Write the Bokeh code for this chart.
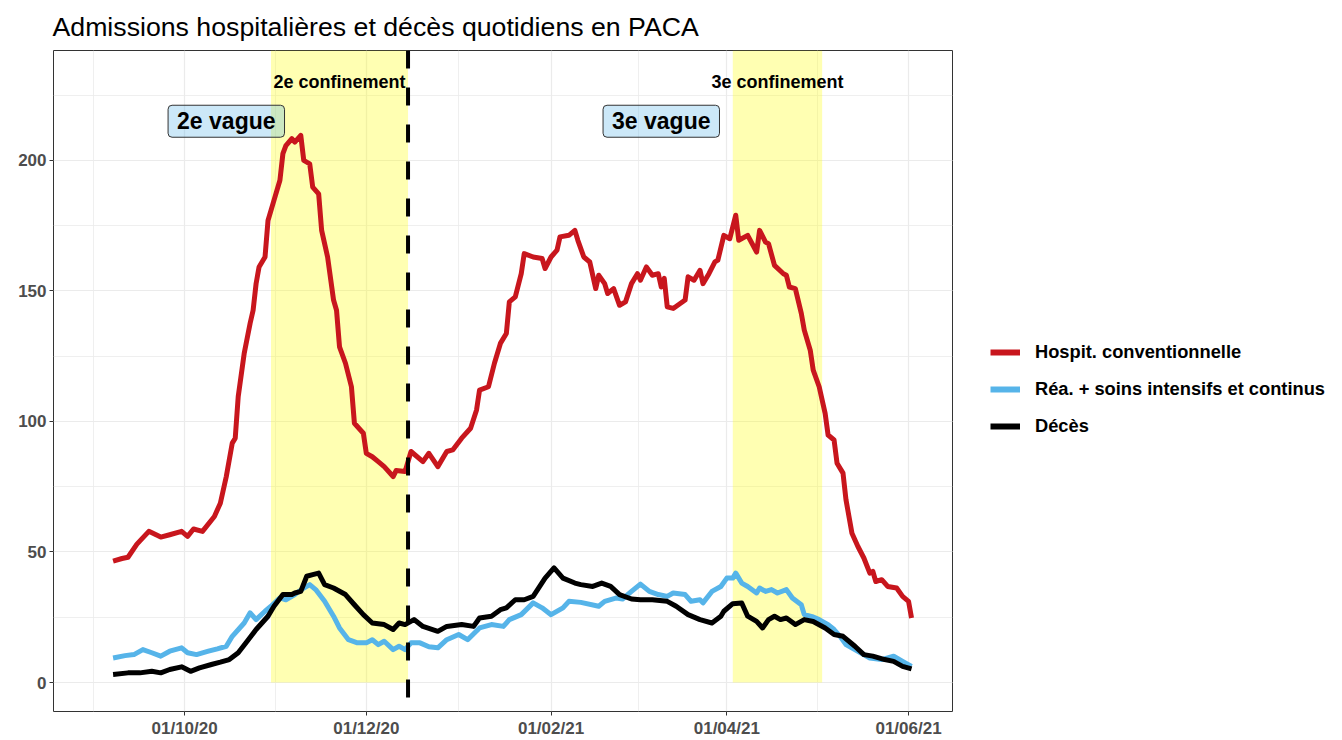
import pandas as pd
from bokeh.plotting import figure
from bokeh.layouts import row
from bokeh.models import (ColumnDataSource, Range1d, FixedTicker, SingleIntervalTicker,
                          DatetimeTickFormatter, Span, Label, Legend, LegendItem)
from bokeh.embed import file_html
from bokeh.resources import INLINE

# ---------------- data ----------------
red_dates = ["2020-09-07", "2020-09-10", "2020-09-12", "2020-09-15", "2020-09-19", "2020-09-23",
             "2020-09-26", "2020-09-30", "2020-10-02", "2020-10-04", "2020-10-07", "2020-10-11",
             "2020-10-13", "2020-10-15", "2020-10-17", "2020-10-18", "2020-10-19", "2020-10-21",
             "2020-10-23", "2020-10-24", "2020-10-25", "2020-10-26", "2020-10-28", "2020-10-29",
             "2020-10-31", "2020-11-02", "2020-11-03", "2020-11-04", "2020-11-06", "2020-11-07",
             "2020-11-09", "2020-11-10", "2020-11-12", "2020-11-13", "2020-11-15", "2020-11-16",
             "2020-11-18", "2020-11-20", "2020-11-21", "2020-11-22", "2020-11-24", "2020-11-26",
             "2020-11-27", "2020-11-30", "2020-12-01", "2020-12-03", "2020-12-05", "2020-12-07",
             "2020-12-10", "2020-12-11", "2020-12-14", "2020-12-16", "2020-12-20", "2020-12-22",
             "2020-12-25", "2020-12-28", "2020-12-30", "2021-01-02", "2021-01-05", "2021-01-07",
             "2021-01-08", "2021-01-11", "2021-01-13", "2021-01-15", "2021-01-17", "2021-01-18",
             "2021-01-20", "2021-01-22", "2021-01-23", "2021-01-26", "2021-01-29", "2021-01-30",
             "2021-02-01", "2021-02-03", "2021-02-04", "2021-02-07", "2021-02-09", "2021-02-10",
             "2021-02-12", "2021-02-14", "2021-02-16", "2021-02-17", "2021-02-19", "2021-02-20",
             "2021-02-22", "2021-02-24", "2021-02-26", "2021-02-28", "2021-03-02", "2021-03-03",
             "2021-03-05", "2021-03-07", "2021-03-09", "2021-03-10", "2021-03-11", "2021-03-12",
             "2021-03-14", "2021-03-18", "2021-03-19", "2021-03-21", "2021-03-23", "2021-03-24",
             "2021-03-26", "2021-03-28", "2021-03-29", "2021-03-31", "2021-04-02", "2021-04-04",
             "2021-04-05", "2021-04-08", "2021-04-11", "2021-04-12", "2021-04-14", "2021-04-15",
             "2021-04-17", "2021-04-20", "2021-04-21", "2021-04-22", "2021-04-24", "2021-04-26",
             "2021-04-27", "2021-04-29", "2021-04-30", "2021-05-02", "2021-05-04", "2021-05-05",
             "2021-05-07", "2021-05-08", "2021-05-10", "2021-05-11", "2021-05-13", "2021-05-15",
             "2021-05-17", "2021-05-19", "2021-05-20", "2021-05-21", "2021-05-23", "2021-05-25",
             "2021-05-28", "2021-05-30", "2021-06-01", "2021-06-02"]
red_vals = [46.5, 47.5, 48, 53, 57.9, 55.7,
            56.6, 57.9, 56, 58.8, 57.9, 63.6,
            68.7, 78.9, 91.7, 93.6, 109.5, 126,
            137.6, 142.6, 152.8, 159.2, 163, 177,
            184.7, 192.4, 202.6, 205.7, 208.3, 207,
            209.6, 200, 198.7, 189.8, 187.2, 173.2,
            163, 146.5, 142.6, 128.6, 122.3, 113.3,
            99.3, 95.5, 87.8, 86.5, 84.6, 82.7,
            78.9, 81.2, 80.8, 88.5, 84.6, 87.8,
            82.7, 88.5, 89.1, 93.6, 97.4, 104.4,
            112, 113.3, 122.3, 129.9, 133.7, 145.8,
            147.7, 156.6, 164.3, 163, 162.4, 158.6,
            163, 165.6, 170.7, 171.3, 173.2, 169.4,
            163, 161.1, 150.9, 156, 152.8, 149,
            150.9, 144.5, 145.8, 152.8, 156.6, 154.1,
            159.2, 156, 156.6, 151.5, 154.8, 143.9,
            143.3, 146.5, 155.4, 154.1, 157.9, 152.8,
            156.6, 161.1, 161.8, 171.3, 170, 179,
            169.4, 171.3, 164.9, 173.2, 168.7, 168.1,
            159.8, 156.6, 156, 151.5, 150.9, 141.4,
            135, 127.3, 119.7, 113.3, 103.1, 94.8,
            92.9, 84, 80.2, 70, 57.2, 52.1,
            47.7, 41.9, 42.6, 38.7, 39.4, 36.8,
            36.2, 33, 31.1, 24.7]

blue_dates = ["2020-09-07", "2020-09-11", "2020-09-14", "2020-09-17", "2020-09-20", "2020-09-23",
              "2020-09-26", "2020-09-30", "2020-10-02", "2020-10-05", "2020-10-09", "2020-10-12",
              "2020-10-15", "2020-10-17", "2020-10-21", "2020-10-23", "2020-10-25", "2020-10-28",
              "2020-10-30", "2020-11-02", "2020-11-04", "2020-11-07", "2020-11-10", "2020-11-12",
              "2020-11-14", "2020-11-17", "2020-11-20", "2020-11-22", "2020-11-25", "2020-11-28",
              "2020-12-01", "2020-12-03", "2020-12-05", "2020-12-07", "2020-12-10", "2020-12-12",
              "2020-12-14", "2020-12-16", "2020-12-19", "2020-12-22", "2020-12-25", "2020-12-28",
              "2021-01-01", "2021-01-04", "2021-01-08", "2021-01-12", "2021-01-16", "2021-01-18",
              "2021-01-22", "2021-01-26", "2021-01-29", "2021-02-01", "2021-02-05", "2021-02-07",
              "2021-02-11", "2021-02-17", "2021-02-19", "2021-02-23", "2021-02-25", "2021-02-28",
              "2021-03-03", "2021-03-06", "2021-03-09", "2021-03-12", "2021-03-14", "2021-03-18",
              "2021-03-20", "2021-03-23", "2021-03-24", "2021-03-27", "2021-03-30", "2021-04-01",
              "2021-04-03", "2021-04-04", "2021-04-06", "2021-04-08", "2021-04-11", "2021-04-12",
              "2021-04-14", "2021-04-16", "2021-04-18", "2021-04-21", "2021-04-23", "2021-04-26",
              "2021-04-27", "2021-04-30", "2021-05-02", "2021-05-05", "2021-05-07", "2021-05-09",
              "2021-05-11", "2021-05-15", "2021-05-19", "2021-05-23", "2021-05-27", "2021-05-30",
              "2021-06-02"]
blue_vals = [9.4, 10.3, 10.7, 12.6, 11.4, 10.1,
             12, 13.3, 11.4, 10.7, 12, 12.9,
             13.9, 17.7, 22.8, 26.7, 24.1, 27.3,
             29.2, 32.4, 31.7, 33.7, 36.2, 37.5,
             35.6, 31.1, 25.4, 20.9, 16.4, 15.2,
             15.2, 16.4, 14.5, 15.8, 12.6, 13.9,
             12.6, 15.2, 15.2, 13.7, 13.3, 16.4,
             18.4, 16.4, 20.9, 22.2, 21.5, 24.1,
             26, 30.5, 28.6, 26, 28.6, 31.1,
             30.7, 29.2, 31.1, 32.4, 32, 34.9,
             37.7, 34.9, 33.7, 33, 34.3, 33.7,
             31.1, 31.7, 30.5, 34.9, 36.8, 40,
             40, 41.9, 38.1, 36.8, 34.3, 36.2,
             34.9, 35.6, 34.3, 35.6, 32.4, 29.8,
             26, 25.1, 24.1, 22.2, 20.3, 17.7,
             14.5, 12, 9.4, 8.8, 10.1, 8.1,
             6.2]

black_dates = ["2020-09-07", "2020-09-12", "2020-09-16", "2020-09-20", "2020-09-23", "2020-09-26",
               "2020-09-30", "2020-10-03", "2020-10-06", "2020-10-10", "2020-10-13", "2020-10-16",
               "2020-10-19", "2020-10-22", "2020-10-25", "2020-10-29", "2020-10-31", "2020-11-03",
               "2020-11-06", "2020-11-07", "2020-11-09", "2020-11-11", "2020-11-13", "2020-11-15",
               "2020-11-17", "2020-11-20", "2020-11-24", "2020-11-27", "2020-11-30", "2020-12-03",
               "2020-12-07", "2020-12-10", "2020-12-12", "2020-12-14", "2020-12-17", "2020-12-20",
               "2020-12-25", "2020-12-28", "2021-01-02", "2021-01-06", "2021-01-08", "2021-01-12",
               "2021-01-15", "2021-01-17", "2021-01-20", "2021-01-23", "2021-01-26", "2021-01-30",
               "2021-02-02", "2021-02-05", "2021-02-09", "2021-02-11", "2021-02-15", "2021-02-18",
               "2021-02-21", "2021-02-24", "2021-02-28", "2021-03-03", "2021-03-07", "2021-03-12",
               "2021-03-15", "2021-03-19", "2021-03-23", "2021-03-27", "2021-03-30", "2021-03-31",
               "2021-04-03", "2021-04-06", "2021-04-08", "2021-04-11", "2021-04-13", "2021-04-15",
               "2021-04-17", "2021-04-19", "2021-04-21", "2021-04-24", "2021-04-27", "2021-04-30",
               "2021-05-04", "2021-05-07", "2021-05-10", "2021-05-14", "2021-05-17", "2021-05-20",
               "2021-05-24", "2021-05-27", "2021-05-30", "2021-06-02"]
black_vals = [3.1, 3.7, 3.7, 4.3, 3.7, 5,
              6, 4.3, 5.6, 6.9, 7.8, 8.8,
              11.4, 15.8, 20.3, 25.4, 29.2, 33.7,
              33.7, 34.3, 34.9, 40.7, 41.3, 41.9,
              37.5, 36.2, 33.7, 29.8, 26, 22.8,
              22.2, 20.3, 22.8, 22.2, 24.1, 21.5,
              19.6, 21.5, 22.2, 21.5, 24.7, 25.4,
              27.9, 28.6, 31.7, 31.7, 33, 40,
              43.9, 40, 38.1, 37.5, 36.8, 38.1,
              36.8, 33.7, 32, 31.7, 31.7, 31.1,
              29.2, 26, 24.1, 22.8, 25.4, 27.3,
              30.2, 30.5, 25.4, 23.4, 20.9, 24.1,
              25.4, 24.1, 24.7, 22.2, 24.1, 23.4,
              20.9, 18.4, 17.7, 13.9, 10.7, 10.1,
              8.8, 8.1, 6.2, 5.2]

series_names = ["Hospit. conventionnelle", "Réa. + soins intensifs et continus", "Décès"]
series_colors = ["#C8161D", "#56B4E9", "#000000"]

conf_start = ["2020-10-30", "2021-04-03"]
conf_end = ["2020-12-15", "2021-05-03"]
conf_labels = ["2e confinement", "3e confinement"]
conf_label_y = 230

vline_dates = ["2020-12-15"]

vague_dates = ["2020-10-15", "2021-03-10"]
vague_y = [215, 215]
vague_labels = ["2e vague", "3e vague"]

x_major = ["2020-08-01", "2020-10-01", "2020-12-01", "2021-02-01", "2021-04-01", "2021-06-01", "2021-08-01"]
x_limits = ["2020-08-18", "2021-06-15 18:00"]
y_limits = [-11.1, 242.1]

title_text = "Admissions hospitalières et décès quotidiens en PACA"


def ms(dates):
    return [(pd.Timestamp(d) - pd.Timestamp("1970-01-01")) / pd.Timedelta(milliseconds=1) for d in dates]


FONT = "Liberation Sans"
H = 740
MAIN_W, LEG_W = 953, 389
LEFT, TOP, RIGHT, BOTTOM = 53, 50, 1, 28
LINE_W = 5

p = figure(width=MAIN_W, height=H, x_axis_type="datetime",
           output_backend="svg", toolbar_location=None,
           x_range=Range1d(*ms(x_limits)), y_range=Range1d(*y_limits),
           min_border_left=LEFT, min_border_top=TOP, min_border_right=RIGHT, min_border_bottom=BOTTOM,
           background_fill_color="white", border_fill_color="white",
           outline_line_color="#333333", outline_line_width=1)

p.title.text = title_text
p.title.text_font = FONT
p.title.text_font_size = "26.7px"
p.title.text_font_style = "normal"
p.title.text_color = "black"
p.title.align = "left"
p.title.standoff = 17
p.title.offset = -1

# axes
maj = ms(x_major)
minor = [(a + b) / 2 for a, b in zip(maj[:-1], maj[1:])]
p.xaxis.ticker = FixedTicker(ticks=maj, minor_ticks=minor)
fmt = "%d/%m/%y"
p.xaxis.formatter = DatetimeTickFormatter(days=fmt, months=fmt, years=fmt, hours=fmt,
                                          minutes=fmt, hourmin=fmt, seconds=fmt)
p.yaxis.ticker = SingleIntervalTicker(interval=50, num_minor_ticks=2)
for ax in (p.xaxis, p.yaxis):
    ax.axis_line_color = None
    ax.major_tick_line_color = "#333333"
    ax.major_tick_out = 4
    ax.major_tick_in = 0
    ax.minor_tick_line_color = None
    ax.major_label_text_font = FONT
    ax.major_label_text_font_size = "17px"
    ax.major_label_text_font_style = "bold"
    ax.major_label_text_color = "#4D4D4D"
    ax.major_label_standoff = 3

for g in (p.xgrid, p.ygrid):
    g.grid_line_color = "#EBEBEB"
    g.grid_line_width = 1.2
    g.minor_grid_line_color = "#EBEBEB"
    g.minor_grid_line_width = 0.8

# confinement rectangles
p.quad(left=ms(conf_start), right=ms(conf_end), bottom=0, top=y_limits[1],
       fill_color="yellow", fill_alpha=0.3, line_color=None)

# series
for dates, vals, col in ((red_dates, red_vals, series_colors[0]),
                         (blue_dates, blue_vals, series_colors[1]),
                         (black_dates, black_vals, series_colors[2])):
    src = ColumnDataSource(dict(x=ms(dates), y=vals))
    p.line("x", "y", source=src, line_color=col, line_width=LINE_W, line_join="round")

# dashed vertical line
for d in ms(vline_dates):
    p.add_layout(Span(location=d, dimension="height", line_color="black",
                      line_width=4, line_dash="18 19"))

# confinement labels
for s, e, t in zip(ms(conf_start), ms(conf_end), conf_labels):
    p.add_layout(Label(x=(s + e) / 2, y=conf_label_y, text=t, text_align="center",
                       text_baseline="middle", text_font=FONT, text_font_size="18px",
                       text_font_style="bold", text_color="black"))

# wave labels
for d, yv, t in zip(ms(vague_dates), vague_y, vague_labels):
    p.add_layout(Label(x=d, y=yv, text=t, text_align="center", text_baseline="middle",
                       text_font=FONT, text_font_size="23px", text_font_style="bold",
                       text_color="black", background_fill_color="#56B4E9",
                       background_fill_alpha=0.3, border_line_color="#333333",
                       border_line_width=1, padding=(9, 3), border_radius=4))

# ---------------- legend panel (separate figure to the right) ----------------
pl = figure(width=LEG_W, height=H, output_backend="svg", toolbar_location=None,
            x_axis_location=None, y_axis_location=None,
            x_range=Range1d(0, 1), y_range=Range1d(0, 1),
            min_border=0, outline_line_color=None,
            background_fill_color="white", border_fill_color="white")
pl.grid.visible = False
# off-range placeholder glyphs: only their styles are used, by the legend keys
leg_renderers = [pl.line(x=[5, 6], y=[5, 5], line_color=c, line_width=6) for c in series_colors]
legend = Legend(items=[LegendItem(label=n, renderers=[r]) for n, r in zip(series_names, leg_renderers)],
                location=(37, 274), orientation="vertical",
                label_text_font=FONT, label_text_font_size="18.3px", label_text_font_style="bold",
                label_text_color="black", glyph_width=30, glyph_height=20, label_height=20,
                label_standoff=15, spacing=15, padding=0, margin=0,
                background_fill_alpha=0, border_line_color=None)
pl.add_layout(legend, "center")

layout = row(p, pl, spacing=0)
open("out.html", "w").write(file_html(layout, INLINE))
